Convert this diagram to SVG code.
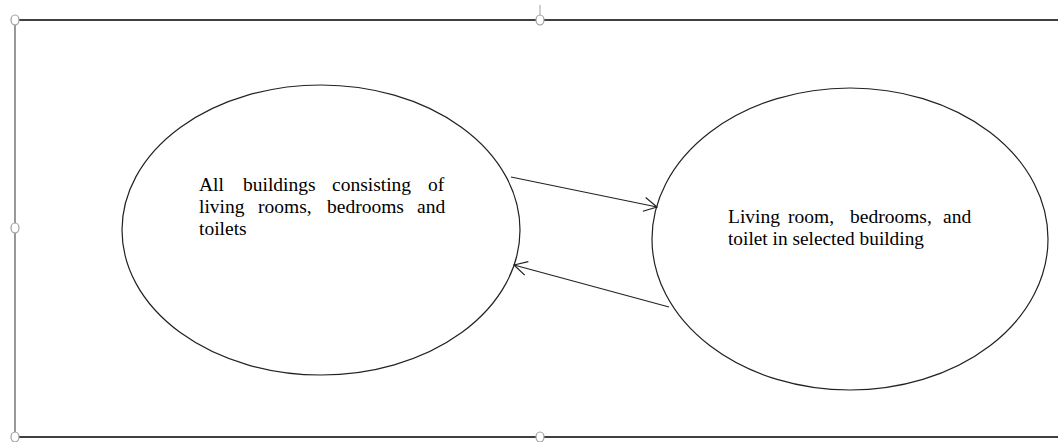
<svg xmlns="http://www.w3.org/2000/svg" width="1058" height="442" viewBox="0 0 1058 442">
<defs>
<style>
.frame{stroke:#000;stroke-width:1.3;fill:none}
.side{stroke:#333;stroke-width:1;fill:none}
.handle{fill:#fff;stroke:#a0a0a0;stroke-width:1.2}
.node{fill:#fff;stroke:#222;stroke-width:1.2}
.conn{stroke:#222;stroke-width:1.2;fill:none;marker-end:url(#open)}
.t{font-family:"Liberation Serif","Times New Roman",serif;font-size:19.5px;fill:#000}
</style>
<marker id="open" markerWidth="16" markerHeight="16" refX="14" refY="8" orient="auto" markerUnits="userSpaceOnUse">
<path d="M1,1 L14,8 L1,15" fill="none" stroke="#222" stroke-width="1.2"/>
</marker>
</defs>
<rect width="1058" height="442" fill="#fff"/>
<g id="frame">
<line class="frame" x1="15" y1="20" x2="1058" y2="20"/>
<line class="frame" x1="15" y1="437" x2="1058" y2="437"/>
<line class="side" x1="15" y1="20" x2="15" y2="437"/>
<line x1="540" y1="5" x2="540" y2="20" stroke="#a0a0a0" stroke-width="1"/>
<ellipse class="handle" cx="15" cy="20" rx="4" ry="5"/>
<ellipse class="handle" cx="540" cy="20" rx="4" ry="5"/>
<ellipse class="handle" cx="15" cy="228" rx="4" ry="5"/>
<ellipse class="handle" cx="15" cy="437" rx="4" ry="5"/>
<ellipse class="handle" cx="540" cy="437" rx="4" ry="5"/>
</g>
<g id="node-all-buildings">
<ellipse class="node" cx="321" cy="230" rx="199" ry="145"/>
<text class="t" y="191"><tspan x="199">All</tspan><tspan x="243">buildings</tspan><tspan x="332">consisting</tspan><tspan x="428">of</tspan></text>
<text class="t" y="213"><tspan x="199">living</tspan><tspan x="258">rooms,</tspan><tspan x="327">bedrooms</tspan><tspan x="417">and</tspan></text>
<text class="t" x="199" y="235">toilets</text>
</g>
<g id="node-selected-building">
<ellipse class="node" cx="850" cy="239" rx="198" ry="151"/>
<text class="t" y="223"><tspan x="728">Living</tspan><tspan x="788">room,</tspan><tspan x="850">bedrooms,</tspan><tspan x="943">and</tspan></text>
<text class="t" x="728" y="245" textLength="196" lengthAdjust="spacingAndGlyphs">toilet in selected building</text>
</g>
<g id="connectors">
<line class="conn" x1="511" y1="177" x2="657" y2="207"/>
<line class="conn" x1="669" y1="307" x2="514" y2="265"/>
</g>
</svg>
